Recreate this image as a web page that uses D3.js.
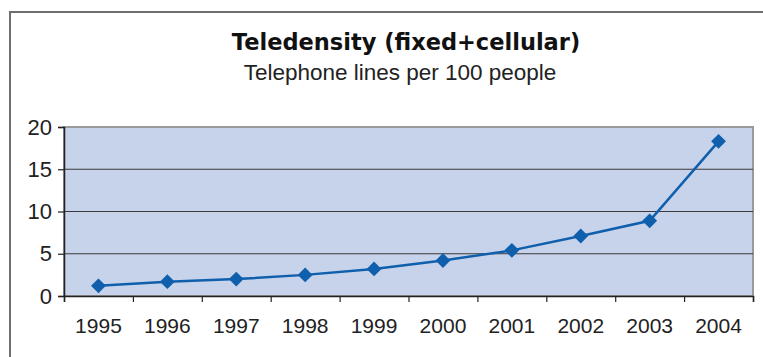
<!DOCTYPE html>
<html>
<head>
<meta charset="utf-8">
<script src="https://cdn.jsdelivr.net/npm/d3@7"></script>
<style>
  body { margin: 0; background: #fff; }
  svg { display: block; }
</style>
</head>
<body>
<div id="chart"></div>
<script>
var years = ["1995", "1996", "1997", "1998", "1999", "2000", "2001", "2002", "2003", "2004"];
var teledensity = [1.2, 1.7, 2.0, 2.5, 3.2, 4.2, 5.4, 7.1, 8.9, 18.3];
var yTicks = [0, 5, 10, 15, 20];

var svgWidth = 763;
var svgHeight = 357;

var margin = { top: 127, right: 10, bottom: 61, left: 64 };
var width = 753 - margin.left;
var height = 296 - margin.top;

var svg = d3.select("#chart")
  .append("svg")
  .attr("width", svgWidth)
  .attr("height", svgHeight);

// outer frame (only top and left visible)
svg.append("path")
  .attr("d", "M10,357 V12 H763")
  .attr("fill", "none")
  .attr("stroke", "#6e6e6e")
  .attr("stroke-width", 2);

// titles
svg.append("text")
  .attr("x", 406)
  .attr("y", 50)
  .attr("text-anchor", "middle")
  .attr("font-family", "'DejaVu Sans', sans-serif")
  .attr("font-weight", "bold")
  .attr("font-size", "22.5px")
  .attr("fill", "#111")
  .text("Teledensity (fixed+cellular)");

svg.append("text")
  .attr("x", 400)
  .attr("y", 80)
  .attr("text-anchor", "middle")
  .attr("font-family", "'Liberation Sans', sans-serif")
  .attr("font-size", "22.5px")
  .attr("fill", "#222")
  .text("Telephone lines per 100 people");

var chartGroup = svg.append("g")
  .attr("transform", `translate(${margin.left}, ${margin.top})`);

var xBand = d3.scaleBand()
  .domain(years)
  .range([0, width]);

var xEdge = d3.scaleLinear()
  .domain([0, years.length])
  .range([0, width]);

var yLinearScale = d3.scaleLinear()
  .domain([0, 20])
  .range([height, 0]);

// plot area
chartGroup.append("rect")
  .attr("x", 0)
  .attr("y", 0)
  .attr("width", width)
  .attr("height", height)
  .attr("fill", "#c6d3ea")
  .attr("stroke", "#9a9a9a")
  .attr("stroke-width", 2);

// gridlines
chartGroup.selectAll(".grid")
  .data(yTicks.filter(d => d > 0 && d < 20))
  .enter()
  .append("line")
  .attr("class", "grid")
  .attr("x1", 0)
  .attr("x2", width)
  .attr("y1", d => yLinearScale(d))
  .attr("y2", d => yLinearScale(d))
  .attr("stroke", "#3a3a3a")
  .attr("stroke-width", 1.2);

// left axis
var leftAxis = d3.axisLeft(yLinearScale)
  .tickValues(yTicks)
  .tickSize(6)
  .tickPadding(6);

var yAxisG = chartGroup.append("g").call(leftAxis);
yAxisG.select(".domain").attr("stroke", "#222").attr("stroke-width", 1.5);
yAxisG.selectAll(".tick line").attr("stroke", "#222").attr("stroke-width", 1.2);
yAxisG.selectAll(".tick text")
  .attr("font-family", "'Liberation Sans', sans-serif")
  .attr("font-size", "22px")
  .attr("fill", "#222");

// bottom axis: ticks at category boundaries
var edgeAxis = d3.axisBottom(xEdge)
  .ticks(years.length)
  .tickSize(6)
  .tickFormat("");

var xAxisG = chartGroup.append("g")
  .attr("transform", `translate(0, ${height})`)
  .call(edgeAxis);
xAxisG.select(".domain").attr("stroke", "#222").attr("stroke-width", 1.5);
xAxisG.selectAll(".tick line").attr("stroke", "#222").attr("stroke-width", 1.2);

// bottom labels at band centres
var labelAxis = d3.axisBottom(xBand)
  .tickSize(0)
  .tickPadding(22);

var labelG = chartGroup.append("g")
  .attr("transform", `translate(0, ${height})`)
  .call(labelAxis);
labelG.select(".domain").remove();
labelG.selectAll(".tick text")
  .attr("font-family", "'Liberation Sans', sans-serif")
  .attr("font-size", "21px")
  .attr("fill", "#222");

// line
var line = d3.line()
  .x((d, i) => xBand(years[i]) + xBand.bandwidth() / 2)
  .y(d => yLinearScale(d));

chartGroup.append("path")
  .datum(teledensity)
  .attr("d", line)
  .attr("fill", "none")
  .attr("stroke", "#0f5fad")
  .attr("stroke-width", 2.5);

// diamond markers
chartGroup.selectAll(".marker")
  .data(teledensity)
  .enter()
  .append("path")
  .attr("class", "marker")
  .attr("d", d3.symbol().type(d3.symbolDiamond2).size(140))
  .attr("transform", (d, i) => `translate(${xBand(years[i]) + xBand.bandwidth() / 2}, ${yLinearScale(d)})`)
  .attr("fill", "#0f5fad");
</script>
</body>
</html>
